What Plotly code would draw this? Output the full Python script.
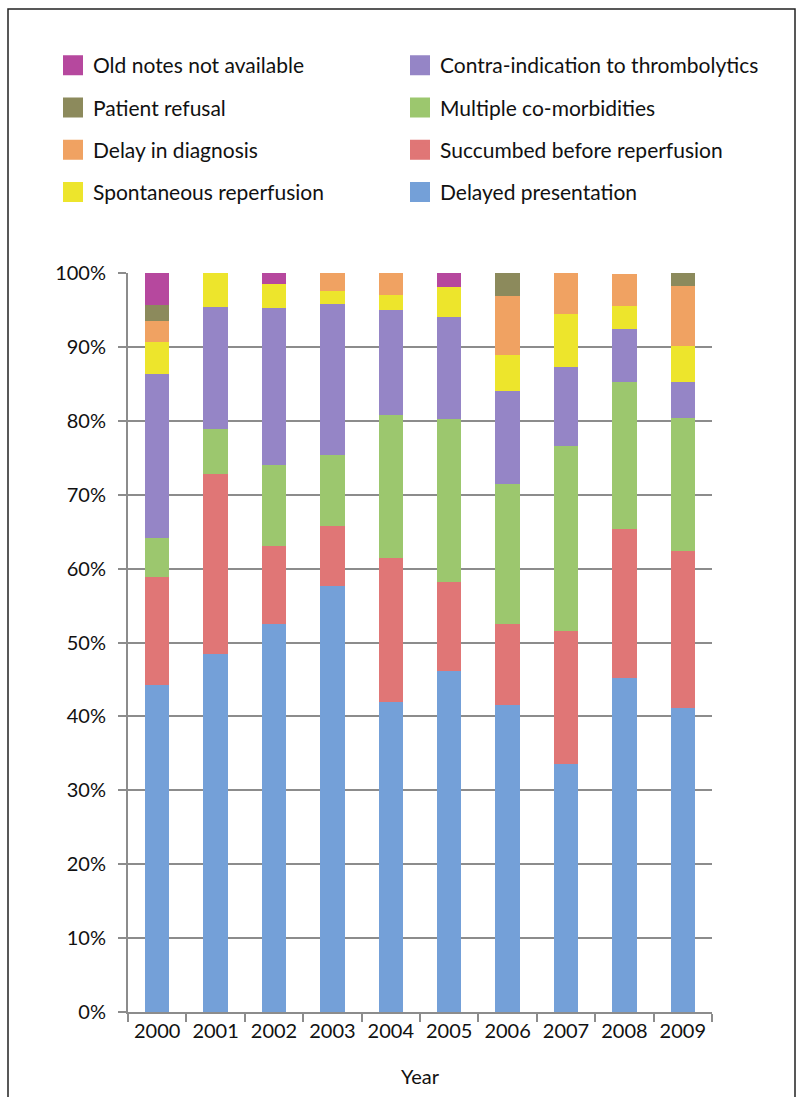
import plotly.graph_objects as go

years = ["2000", "2001", "2002", "2003", "2004", "2005", "2006", "2007", "2008", "2009"]

# percentages per cause (stack order bottom -> top)
delayed_presentation = [44.2, 48.5, 52.5, 57.6, 42.0, 46.1, 41.5, 33.6, 45.2, 41.2]
succumbed_before_reperfusion = [14.7, 24.3, 10.6, 8.2, 19.5, 12.1, 11.0, 18.0, 20.1, 21.2]
multiple_co_morbidities = [5.3, 6.1, 10.9, 9.6, 19.3, 22.0, 19.0, 25.0, 20.0, 18.0]
contra_indication = [22.2, 16.5, 21.3, 20.4, 14.2, 13.8, 12.5, 10.7, 7.1, 4.8]
spontaneous_reperfusion = [4.3, 4.6, 3.2, 1.7, 2.0, 4.1, 4.9, 7.2, 3.2, 4.9]
delay_in_diagnosis = [2.8, 0.0, 0.0, 2.5, 3.0, 0.0, 8.0, 5.5, 4.3, 8.2]
patient_refusal = [2.2, 0.0, 0.0, 0.0, 0.0, 0.0, 3.1, 0.0, 0.0, 1.7]
old_notes_not_available = [4.3, 0.0, 1.5, 0.0, 0.0, 1.9, 0.0, 0.0, 0.0, 0.0]

y_ticks = [0, 10, 20, 30, 40, 50, 60, 70, 80, 90, 100]
y_tick_labels = ["0%", "10%", "20%", "30%", "40%", "50%", "60%", "70%", "80%", "90%", "100%"]

series = [
    ("Delayed presentation", delayed_presentation, "#74A0D8", "legend2", 4),
    ("Succumbed before reperfusion", succumbed_before_reperfusion, "#E07676", "legend2", 3),
    ("Multiple co-morbidities", multiple_co_morbidities, "#9CC76E", "legend2", 2),
    ("Contra-indication to thrombolytics", contra_indication, "#9585C6", "legend2", 1),
    ("Spontaneous reperfusion", spontaneous_reperfusion, "#EDE52C", "legend", 4),
    ("Delay in diagnosis", delay_in_diagnosis, "#F0A262", "legend", 3),
    ("Patient refusal", patient_refusal, "#8C8A5C", "legend", 2),
    ("Old notes not available", old_notes_not_available, "#B6489E", "legend", 1),
]

FONT = "Lato, 'Open Sans', sans-serif"

fig = go.Figure()
for name, vals, color, leg, rank in series:
    fig.add_trace(go.Bar(
        x=years, y=vals, name=name, marker=dict(color=color, line=dict(width=0)),
        width=0.42, showlegend=False,
    ))
# legend entries (larger square swatches)
for name, vals, color, leg, rank in series:
    fig.add_trace(go.Scatter(
        x=[None], y=[None], mode="markers", name=name,
        marker=dict(symbol="square", size=16, color=color, line=dict(color=color, width=4)),
        legend=leg, legendgroup=name, legendrank=rank, showlegend=True,
    ))

W, H = 803, 1097
L, R, T, B = 128, 91, 273, 85
pw, ph = W - L - R, H - T - B

def px_x(v):
    return (v - L) / pw

def px_y(v):
    return (H - B - v) / ph

legend_common = dict(
    orientation="v", yanchor="top", xanchor="left",
    font=dict(family=FONT, size=21, color="#111111"),
    traceorder="grouped", tracegroupgap=12, bgcolor="rgba(0,0,0,0)",
    itemsizing="trace",
)

fig.update_layout(
    width=W, height=H,
    margin=dict(l=L, r=R, t=T, b=B, autoexpand=False),
    barmode="stack",
    plot_bgcolor="white", paper_bgcolor="white",
    font=dict(family=FONT, size=20, color="#111111"),
    legend=dict(x=px_x(53), y=px_y(45), **legend_common),
    legend2=dict(x=px_x(400), y=px_y(45), **legend_common),
    xaxis=dict(
        showline=True, linecolor="#8C8C8C", linewidth=2,
        ticks="outside", tickson="boundaries", ticklen=8, tickwidth=2, tickcolor="#8C8C8C",
        showgrid=False, tickfont=dict(size=20),
        title=dict(text="Year", standoff=29, font=dict(size=20)),
        automargin=False,
    ),
    yaxis=dict(
        range=[0, 100], tickvals=y_ticks, ticktext=y_tick_labels,
        showline=True, linecolor="#8C8C8C", linewidth=2,
        showgrid=True, gridcolor="#8C8C8C", gridwidth=2,
        ticks="outside", ticklen=8, tickwidth=2, tickcolor="#8C8C8C",
        ticklabelstandoff=8, tickfont=dict(size=20),
        zeroline=False, automargin=False,
    ),
    shapes=[dict(
        type="rect", xref="paper", yref="paper",
        x0=px_x(8), x1=px_x(795), y0=px_y(1110), y1=px_y(9),
        line=dict(color="#222222", width=1.5), fillcolor="rgba(0,0,0,0)", layer="below",
    )],
)

fig.write_html("out.html")
